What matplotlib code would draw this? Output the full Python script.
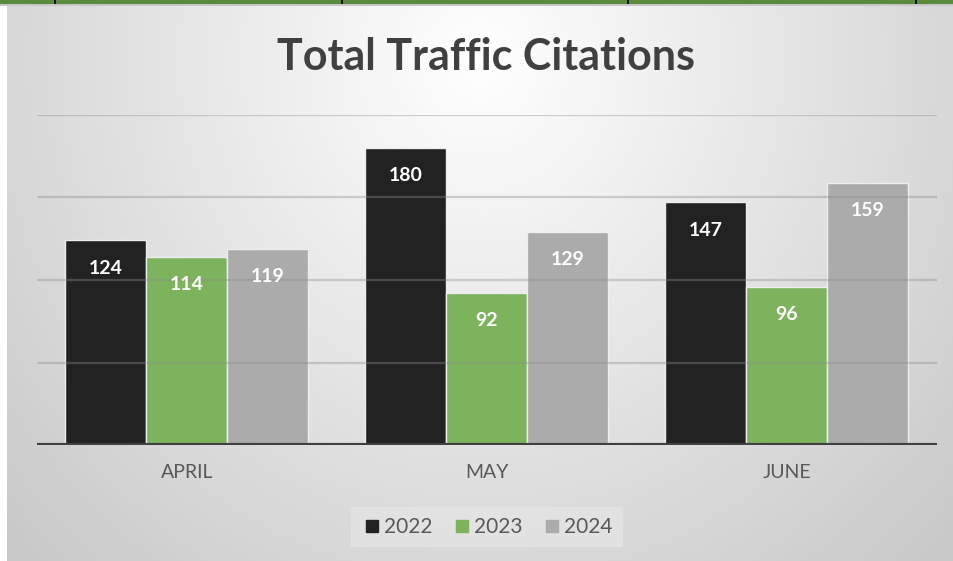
import matplotlib
matplotlib.use('Agg')
import matplotlib.pyplot as plt
import numpy as np
from matplotlib.lines import Line2D
from matplotlib.patches import Rectangle

# chart data
months = ['APRIL', 'MAY', 'JUNE']
years = ['2022', '2023', '2024']
v2022 = [124, 180, 147]
v2023 = [114, 92, 96]
v2024 = [119, 129, 159]

colors = ['#222222', '#7cb35c', '#ababab']
font = 'Lato'

W, H = 954, 561
fig = plt.figure(figsize=(W / 100, H / 100), dpi=100)

# radial grey background
bg = fig.add_axes([0, 0, 1, 1], zorder=-10)
yy, xx = np.mgrid[0:H, 0:W]
d = np.sqrt(((xx - 480) / 520.0) ** 2 + ((yy - 60) / 560.0) ** 2)
shade = np.clip(1.0 - 0.17 * d, 0.78, 1)
img = np.dstack([shade, shade, shade])
bg.imshow(img, extent=(0, W, H, 0), aspect='auto', interpolation='bilinear')
bg.set_xlim(0, W)
bg.set_ylim(H, 0)
bg.axis('off')

# strip at the top and white margin at left (from the surrounding page)
bg.add_patch(Rectangle((0, 0), 7, H, color='white', lw=0))
bg.add_patch(Rectangle((0, 0), W, 6, color='#c6c6c6', lw=0))
bg.add_patch(Rectangle((0, 0), W, 3.5, color='#5b8a3c', lw=0))
for xp in [55, 342, 628, 916]:
    bg.add_patch(Rectangle((xp - 1, 0), 2, 3.5, color='#111111', lw=0))

ax = fig.add_axes([37 / W, (H - 445) / H, 900 / W, 330 / H])
ax.patch.set_alpha(0)

x = np.arange(len(months))
bw = 0.27
series = [v2022, v2023, v2024]
for i, (vals, c) in enumerate(zip(series, colors)):
    bars = ax.bar(x + (i - 1) * bw, vals, bw, color=c, edgecolor='#eeeeee',
                  linewidth=1.0, zorder=2)
    for b, v in zip(bars, vals):
        ax.annotate(str(v), (b.get_x() + b.get_width() / 2, v),
                    xytext=(0, -20), textcoords='offset points',
                    ha='center', va='center', color='white',
                    fontsize=14, fontweight='bold', family=font, zorder=4)

ax.set_xlim(-0.5, 2.5)
ax.set_ylim(0, 200)
for gy in [50, 100, 150, 200]:
    ax.axhline(gy, color='#8c8c8c', alpha=0.38, lw=1.6, zorder=3)
ax.axhline(0, color='#404040', lw=3, zorder=5)

for s in ax.spines.values():
    s.set_visible(False)
ax.set_yticks([])
ax.set_xticks(x)
ax.set_xticklabels(months, family=font, fontsize=14, color='#595959')
ax.tick_params(axis='x', length=0, pad=14)

fig.text(486 / W, 1 - 57 / H, 'Total Traffic Citations', ha='center',
         va='center', fontsize=31, fontweight='bold', color='#404040',
         family=font)

handles = [Line2D([], [], marker='s', ls='', color=c, markersize=8)
           for c in colors]
leg = fig.legend(handles, years, loc='center',
                 bbox_to_anchor=(487 / W, 1 - 527 / H), ncol=3,
                 frameon=True, fancybox=False, handletextpad=0.1,
                 columnspacing=0.9, borderpad=0.5, handlelength=1.0,
                 prop={'family': font, 'size': 15})
leg.get_frame().set_facecolor('#e4e4e4')
leg.get_frame().set_edgecolor('none')
leg.get_frame().set_alpha(0.8)
for t in leg.get_texts():
    t.set_color('#595959')

fig.savefig('out.png', dpi=100)
